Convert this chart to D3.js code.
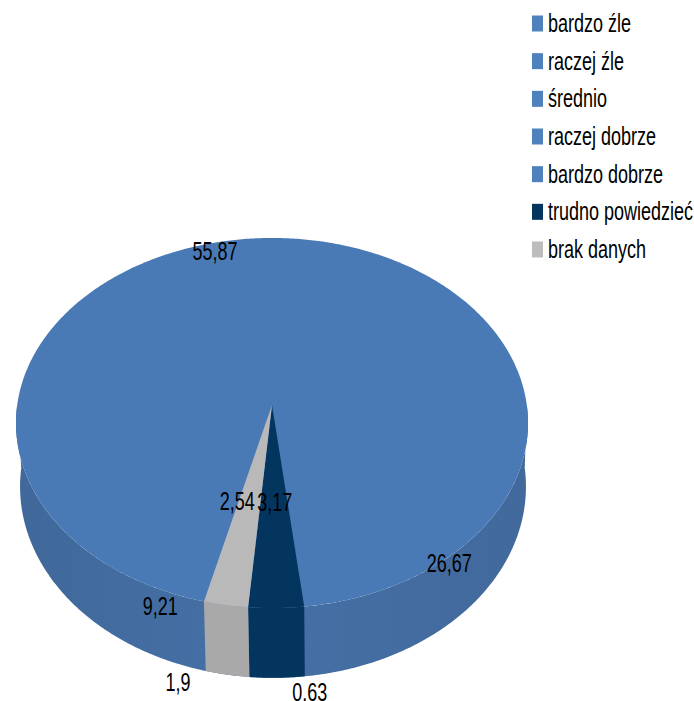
<!DOCTYPE html>
<html>
<head>
<meta charset="utf-8">
<title>Pie 3D</title>
<script src="https://d3js.org/d3.v7.min.js"></script>
<style>
  html, body { margin: 0; padding: 0; background: #fff; }
  svg { display: block; }
  text { font-family: "Liberation Sans", sans-serif; fill: #000; }
</style>
</head>
<body>
<div id="my_dataviz"></div>
<script>
// data, clockwise as in the picture
var categories = ["bardzo źle", "raczej źle", "średnio", "raczej dobrze", "bardzo dobrze", "trudno powiedzieć", "brak danych"];
var values = [1.9, 9.21, 55.87, 26.67, 0.63, 3.17, 2.54];
var valueLabels = ["1,9", "9,21", "55,87", "26,67", "0.63", "3,17", "2,54"];

// layout and styles
var width = 694, height = 701;
var cx = 272, cy = 405;         // where the pie centre lands on screen
var rx = 254.8, ry = 183.3;
var k = 0.0973;                 // perspective strength
var depth = 63;
var startDeg = 194;
var fontSize = 25;
var narrow = 0.72;              // the original font is a narrow one, squeeze it
var blueTop = "#4a7ab5";
var topColors = [blueTop, blueTop, blueTop, blueTop, blueTop, "#04355f", "#b9b9b9"];
var sideColors = ["url(#sideBlue)", "url(#sideBlue)", "url(#sideBlue)", "url(#sideBlue)", "url(#sideBlue)", "#04355f", "#a9a9a9"];
var legendColors = ["#4f81bd", "#4f81bd", "#4f81bd", "#4f81bd", "#4f81bd", "#04355f", "#bdbdbd"];
// label shift from the rim point at the middle of the slice
var labelDx = [-10, 56, 43.5, -48, 0, -1.5, 11.5];
var labelDy = [85, 44, -1, 52, 86, -106, -104];

var svg = d3.select("#my_dataviz").append("svg")
  .attr("width", width)
  .attr("height", height);

var grad = svg.append("defs").append("linearGradient")
  .attr("id", "sideBlue")
  .attr("gradientUnits", "userSpaceOnUse")
  .attr("x1", 17).attr("x2", 528).attr("y1", 0).attr("y2", 0);
grad.append("stop").attr("offset", "0%").attr("stop-color", "#40689a");
grad.append("stop").attr("offset", "45%").attr("stop-color", "#4670a6");
grad.append("stop").attr("offset", "100%").attr("stop-color", "#42699c");

var start = startDeg * Math.PI / 180;
var pie = d3.pie().sort(null).startAngle(start).endAngle(start + 2 * Math.PI);
var arcs = pie(values);

// circle angle (clockwise from the back) to screen, drop = how far down the side
function project(a, drop) {
  var u = Math.sin(a), v = -Math.cos(a), w = 1 - k * v;
  if (!drop) return [cx + rx * u / w, cy + ry * v / w];
  return [cx + 1 + 0.988 * rx * u / w, cy + ry * v / w + drop / w];
}

function rim(a0, a1, drop) {
  var n = Math.max(2, Math.ceil((a1 - a0) / 0.01));
  return d3.range(n + 1).map(function(i) { return project(a0 + (a1 - a0) * i / n, drop); });
}

var line = d3.line();

// side wall: only the front half can be seen
var sideFrom = Math.PI / 2, sideTo = 3 * Math.PI / 2;

// whole wall and whole top in blue first, so blue slices leave no seams
svg.append("path")
  .attr("d", line(rim(sideFrom, sideTo, 0).concat(rim(sideFrom, sideTo, depth).reverse())) + "Z")
  .attr("fill", "url(#sideBlue)");
svg.append("path")
  .attr("d", line(rim(0, 2 * Math.PI, 0)) + "Z")
  .attr("fill", blueTop);

// only the slices with their own colour need drawing over that
var own = arcs.map(function(d, i) { return { arc: d, i: i }; })
  .filter(function(d) { return topColors[d.i] !== blueTop; });

var sides = svg.append("g");
own.forEach(function(o) {
  var d = o.arc;
  [0, 2 * Math.PI].forEach(function(turn) {
    var a0 = Math.max(d.startAngle, sideFrom + turn);
    var a1 = Math.min(d.endAngle, sideTo + turn);
    if (a1 <= a0) return;
    sides.append("path")
      .attr("d", line(rim(a0, a1, 0).concat(rim(a0, a1, depth).reverse())) + "Z")
      .attr("fill", sideColors[o.i]);
  });
});

svg.append("g").selectAll("path")
  .data(own)
  .enter()
  .append("path")
    .attr("d", function(d) { return line([[cx, cy]].concat(rim(d.arc.startAngle, d.arc.endAngle, 0))) + "Z"; })
    .attr("fill", function(d) { return topColors[d.i]; });

// value labels
svg.append("g").selectAll("text")
  .data(arcs)
  .enter()
  .append("text")
    .attr("transform", function(d, i) {
      var p = project((d.startAngle + d.endAngle) / 2, 0);
      return "translate(" + (p[0] + labelDx[i]) + "," + (p[1] + labelDy[i]) + ") scale(" + narrow + ",1)";
    })
    .attr("text-anchor", "middle")
    .attr("dominant-baseline", "central")
    .style("font-size", fontSize + "px")
    .text(function(d, i) { return valueLabels[i]; });

// legend
var legendY = d3.scalePoint().domain(categories).range([23.5, 249.5]);
var legend = svg.append("g");
legend.selectAll("rect")
  .data(categories)
  .enter()
  .append("rect")
    .attr("x", 532)
    .attr("y", function(d) { return legendY(d) - 8; })
    .attr("width", 11)
    .attr("height", 16)
    .attr("fill", function(d, i) { return legendColors[i]; });
legend.selectAll("text")
  .data(categories)
  .enter()
  .append("text")
    .attr("transform", function(d) { return "translate(548," + legendY(d) + ") scale(" + narrow + ",1)"; })
    .attr("dominant-baseline", "central")
    .style("font-size", fontSize + "px")
    .text(function(d) { return d; });
</script>
</body>
</html>
